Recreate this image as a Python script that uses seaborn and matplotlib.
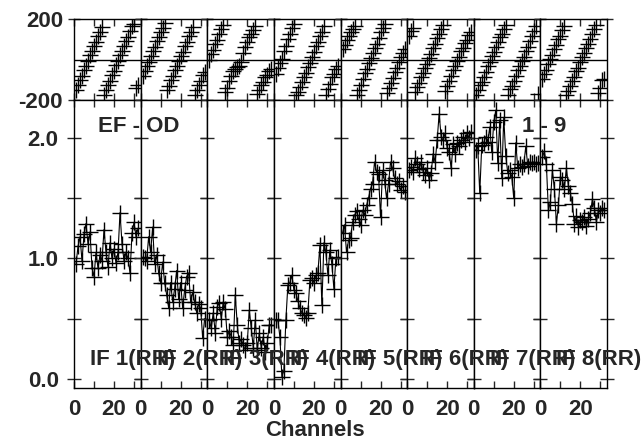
import numpy as np
import pandas as pd
import seaborn as sns
import matplotlib.pyplot as plt

# channels 1..32 for each IF
channels = list(range(1, 33))
if_labels = ["IF 1(RR)", "IF 2(RR)", "IF 3(RR)", "IF 4(RR)",
             "IF 5(RR)", "IF 6(RR)", "IF 7(RR)", "IF 8(RR)"]

amp_if1 = [0.95, 1.10, 1.18, 0.98, 1.20, 1.29, 1.12, 1.22, 0.92, 0.85, 1.05, 0.92, 1.03, 0.98, 1.24, 1.05,
           0.93, 1.13, 1.00, 1.08, 0.96, 1.05, 1.38, 1.12, 0.98, 1.05, 1.00, 0.88, 1.21, 1.30, 1.18, 1.25]
amp_if2 = [1.01, 1.00, 0.98, 1.18, 1.05, 1.26, 0.95, 1.03, 0.88, 0.80, 0.97, 0.80, 0.70, 0.59, 0.80, 0.64,
           0.75, 0.90, 0.66, 0.80, 0.59, 0.74, 0.85, 0.88, 0.64, 0.72, 0.64, 0.55, 0.62, 0.59, 0.34, 0.50]
amp_if3 = [0.49, 0.42, 0.55, 0.38, 0.60, 0.63, 0.50, 0.64, 0.58, 0.35, 0.40, 0.35, 0.28, 0.70, 0.45, 0.30,
           0.33, 0.28, 0.24, 0.30, 0.57, 0.42, 0.26, 0.49, 0.24, 0.38, 0.26, 0.35, 0.22, 0.30, 0.45, 0.45]
amp_if4 = [0.49, 0.49, 0.35, 0.02, 0.07, 0.49, 0.78, 0.80, 0.86, 0.74, 0.71, 0.65, 0.59, 0.55, 0.53, 0.51,
           0.55, 0.82, 0.84, 0.80, 0.86, 0.88, 1.11, 0.61, 1.13, 1.05, 0.86, 1.07, 0.95, 0.75, 1.00, 1.01]
amp_if5 = [1.21, 1.28, 1.05, 1.15, 1.17, 1.30, 1.36, 1.39, 1.33, 1.28, 1.40, 1.36, 1.44, 1.50, 1.58, 1.62,
           1.80, 1.72, 1.70, 1.34, 1.73, 1.65, 1.50, 1.62, 1.80, 1.75, 1.67, 1.62, 1.64, 1.57, 1.60, 1.55]
amp_if6 = [1.73, 1.76, 1.72, 1.83, 1.78, 1.74, 1.80, 1.72, 1.69, 1.75, 1.65, 1.71, 1.87, 1.80, 1.98, 2.20,
           2.01, 1.98, 2.04, 1.92, 1.88, 1.75, 1.95, 1.87, 1.96, 1.93, 1.98, 2.01, 1.97, 2.04, 2.00, 2.05]
amp_if7 = [1.90, 1.93, 1.54, 1.94, 1.96, 2.01, 1.97, 2.09, 1.88, 2.13, 2.23, 1.79, 2.15, 1.67, 2.17, 1.85,
           1.71, 1.73, 1.68, 1.50, 1.96, 1.75, 1.78, 1.76, 1.78, 1.93, 1.77, 1.80, 1.79, 1.80, 1.78, 1.79]
amp_if8 = [1.84, 1.89, 1.78, 1.40, 1.47, 1.73, 1.58, 1.29, 1.44, 1.68, 1.65, 1.58, 1.75, 1.60, 1.54, 1.45,
           1.29, 1.35, 1.26, 1.32, 1.30, 1.34, 1.27, 1.33, 1.38, 1.49, 1.42, 1.30, 1.40, 1.38, 1.42, 1.40]

ph_if1 = [-150, -126, -100, -80, -52, -32, -6, 20, 40, 68, 88, 116, 136, 160, -174, -152,
          -124, -104, -76, -56, -28, -8, 20, 40, 66, 92, 112, 140, 164, 176, -140, -128]
ph_if2 = [-80, -56, -30, -10, 18, 40, 62, 90, 110, 138, 158, 178, -152, -130, -102, -82,
          -54, -34, -6, 18, 38, 66, 86, 114, 134, 162, -176, -150, -126, -104, -78, -60]
ph_if3 = [0, 26, 48, 76, 98, 126, 150, 168, -162, -140, -108, -82, -58, -46, -38, -30,
          -10, 30, 60, 84, 112, 128, 146, 164, -168, -150, -128, -112, -88, -76, -58, -46]
ph_if4 = [-70, -44, -18, 4, 42, 68, 102, 128, 156, 176, -174, -160, -134, -112, -88, -66,
          -38, -16, 12, 38, 66, 88, 116, 138, 166, -176, -148, -122, -88, -72, -48, -30]
ph_if5 = [50, 72, 94, 116, 134, 152, 166, -176, -150, -124, -96, -68, -46, -18, 6, 30,
          56, 78, 106, 134, 158, 176, -164, -142, -114, -90, -64, -42, -14, 10, 32, 54]
ph_if6 = [118, 140, 158, -160, -138, -116, -88, -66, -44, -20, 6, 28, 56, 78, 106, 124,
          152, 168, -154, -132, -104, -82, -54, -32, -8, 14, 42, 58, 82, 98, 122, 138]
ph_if7 = [-174, -152, -128, -112, -84, -62, -34, -12, 16, 38, 62, 84, 112, 128, 152, 168,
          -176, -148, -132, -104, -82, -54, -32, -8, 14, 42, 64, 92, 114, 142, 164, -168]
ph_if8 = [-96, -74, -52, -24, 2, 24, 52, 74, 102, 118, 146, 164, -176, -154, -132, -108,
          -86, -58, -42, -14, 12, 34, 56, 78, 102, 124, 152, 168, -164, -142, -100, -96]

amps = [amp_if1, amp_if2, amp_if3, amp_if4, amp_if5, amp_if6, amp_if7, amp_if8]
phases = [ph_if1, ph_if2, ph_if3, ph_if4, ph_if5, ph_if6, ph_if7, ph_if8]

sns.set_style("white")
plt.rcParams["font.family"] = ["Liberation Sans", "DejaVu Sans"]
plt.rcParams["font.weight"] = "bold"
plt.rcParams["axes.unicode_minus"] = False

W, H = 643, 441
fig = plt.figure(figsize=(W / 100, H / 100), dpi=100)
gs = fig.add_gridspec(2, 8, left=74 / W, right=607 / W, top=1 - 19 / H, bottom=1 - 388 / H,
                      height_ratios=[81, 288], wspace=0, hspace=0)

for i in range(8):
    df = pd.DataFrame({"ch": channels, "amp": amps[i], "phase": phases[i]})

    # phase panel
    axp = fig.add_subplot(gs[0, i])
    sns.scatterplot(data=df, x="ch", y="phase", marker="+", s=120, color="k",
                    linewidth=1.0, ax=axp, legend=False)
    axp.axhline(0, color="k", lw=1.0)
    axp.set_xlim(0, 33.3)
    axp.set_ylim(-200, 200)
    axp.set_xticks([0, 20])
    axp.set_xticks([10, 30], minor=True)
    axp.set_yticks([-200, 200])
    axp.tick_params(axis="x", which="both", direction="in", length=5, width=1,
                    top=True, bottom=True, labelbottom=False)
    axp.tick_params(axis="y", direction="inout", length=8, width=1, left=True, right=True,
                    labelleft=(i == 0), labelsize=16, pad=4)
    axp.set_xlabel("")
    axp.set_ylabel("")

    # amplitude panel
    axa = fig.add_subplot(gs[1, i])
    sns.lineplot(data=df, x="ch", y="amp", color="k", lw=0.8, marker="+",
                 markersize=11, markeredgewidth=1.0, markeredgecolor="k", ax=axa)
    axa.set_xlim(0, 33.3)
    axa.set_ylim(-0.075, 2.315)
    axa.set_xticks([0, 20])
    axa.set_xticks([10, 30], minor=True)
    axa.set_yticks([0.0, 1.0, 2.0])
    axa.set_yticklabels(["0.0", "1.0", "2.0"])
    axa.set_yticks([0.5, 1.5], minor=True)
    axa.tick_params(axis="x", which="both", direction="in", length=5, width=1,
                    top=True, bottom=True, labelsize=16, pad=8)
    axa.tick_params(axis="y", which="both", direction="inout", length=10, width=1,
                    left=True, right=True, labelleft=(i == 0), labelsize=16, pad=6)
    axa.set_xlabel("")
    axa.set_ylabel("")
    # figure-level text so the next panel does not cover it
    fig.text(8, 0.16, if_labels[i], transform=axa.transData, fontsize=16,
             fontweight="bold", va="center", ha="left")

    for ax in (axp, axa):
        for sp in ax.spines.values():
            sp.set_color("k")
            sp.set_linewidth(1.0)

fig.text(98 / W, 1 - 126 / H, "EF - OD", fontsize=16, fontweight="bold", va="center", ha="left")
fig.text(522 / W, 1 - 126 / H, "1 - 9", fontsize=16, fontweight="bold", va="center", ha="left")
fig.text(315 / W, 1 - 430 / H, "Channels", fontsize=16, fontweight="bold", va="center", ha="center")

fig.savefig("out.png", dpi=100)
